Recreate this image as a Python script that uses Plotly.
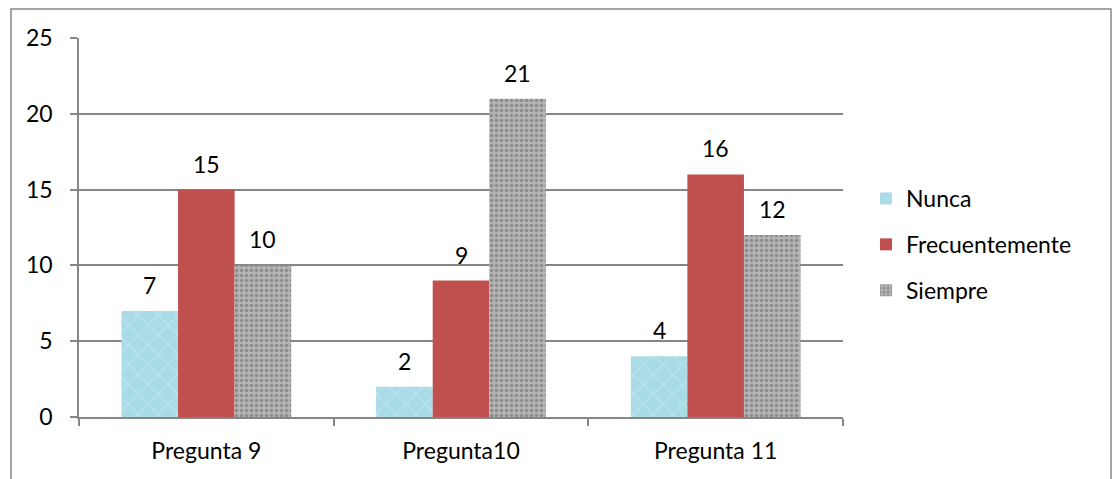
import plotly.graph_objects as go

categories = ["Pregunta 9", "Pregunta10", "Pregunta 11"]
series_names = ["Nunca", "Frecuentemente", "Siempre"]
nunca = [7, 2, 4]
frecuentemente = [15, 9, 16]
siempre = [10, 21, 12]
y_ticks = [0, 5, 10, 15, 20, 25]

FONT = "Lato"
FS = 23
GRID = "#868686"

W, H = 1114, 479
L, R, T, B = 79, W - 843, 38, H - 417

fig = go.Figure()
fig.add_trace(go.Bar(
    name=series_names[0], x=categories, y=nunca, legendgroup="a",
    marker=dict(color="#a8dbe6", line=dict(width=0),
                pattern=dict(shape="x", fgcolor="#d6f0f4", size=14, solidity=0.15)),
))
fig.add_trace(go.Bar(
    name=series_names[1], x=categories, y=frecuentemente, legendgroup="b",
    marker=dict(color="#c0504d", line=dict(width=0)),
))
fig.add_trace(go.Bar(
    name=series_names[2], x=categories, y=siempre, legendgroup="c",
    marker=dict(color="#b4b4b4", line=dict(width=0),
                pattern=dict(shape=".", fgcolor="#666666", size=5, solidity=0.4)),
))

plot_w = W - L - R
bar_px = plot_w / len(categories) * (1 - 1 / 3) / 3
for si, vals in enumerate([nunca, frecuentemente, siempre]):
    for ci, v in enumerate(vals):
        fig.add_annotation(
            x=categories[ci], y=v, xref="x", yref="y", text=str(v),
            showarrow=False, xshift=(si - 1) * bar_px, yshift=26,
            yanchor="middle", font=dict(family=FONT, size=FS, color="black"),
        )

ph = H - T - B
fig.add_shape(type="rect", xref="paper", yref="paper",
              x0=(11 - L) / plot_w, x1=(1111 - L) / plot_w,
              y0=(417 - 500) / ph, y1=(417 - 9) / ph,
              line=dict(color=GRID, width=1.5), fillcolor="rgba(0,0,0,0)", layer="below")

fig.update_layout(
    width=W, height=H,
    margin=dict(l=L, r=R, t=T, b=B, autoexpand=False),
    paper_bgcolor="white", plot_bgcolor="white",
    barmode="group", bargap=1 / 3, bargroupgap=0,
    font=dict(family=FONT, size=FS, color="black"),
    showlegend=True,
    legend=dict(x=1 + (866 - 843) / plot_w, y=(417 - 177) / ph, xanchor="left", yanchor="top",
                font=dict(family=FONT, size=FS), tracegroupgap=13,
                bgcolor="rgba(0,0,0,0)", itemwidth=30),
    xaxis=dict(showline=True, linecolor=GRID, linewidth=1.5, ticks="outside",
               tickson="boundaries", ticklen=7, tickcolor=GRID, tickwidth=1.5,
               showgrid=False, ticklabelstandoff=13),
    yaxis=dict(range=[0, 25], tickvals=y_ticks, showline=True, linecolor=GRID, linewidth=1.5,
               ticks="outside", ticklen=7, tickcolor=GRID, tickwidth=1.5,
               showgrid=True, gridcolor=GRID, gridwidth=1.5, zeroline=False,
               ticklabelstandoff=13),
)

fig.write_html("out.html", config={"displayModeBar": False},
               post_script="document.body.style.margin='0px';document.body.style.overflow='hidden';")
